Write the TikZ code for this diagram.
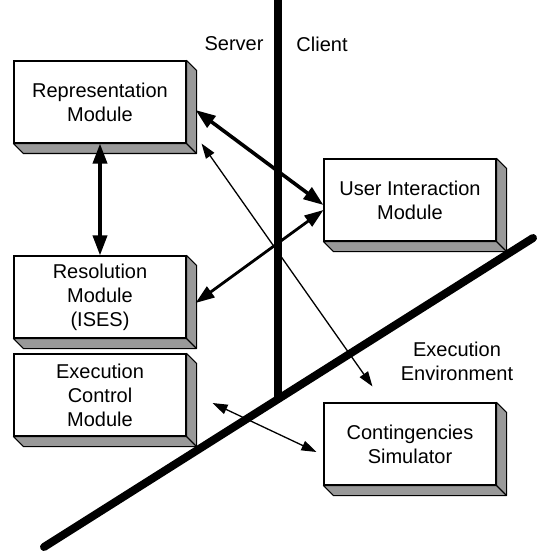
\documentclass[tikz,border=0pt]{standalone}
\usepackage{fontspec}
\setmainfont{Liberation Sans}
\usetikzlibrary{calc}
\usetikzlibrary{arrows.meta}

\begin{document}
\begin{tikzpicture}[x=1pt, y=-1pt, font=\fontsize{20}{24}\selectfont,
    module/.style={draw, fill=white, line width=1.1pt, minimum width=172pt, minimum height=82pt, inner sep=0pt, align=center},
    wall/.style={line width=8pt},
    bigarrow/.style={line width=3.6pt, {Triangle[length=20pt,width=14pt]}-{Triangle[length=20pt,width=14pt]}},
    midarrow/.style={line width=2.8pt, {Triangle[length=19pt,width=13pt]}-{Triangle[length=19pt,width=13pt]}},
    thinarrow/.style={line width=1.3pt, {Triangle[length=15pt,width=10pt]}-{Triangle[length=15pt,width=10pt]}}]
          \useasboundingbox (0,0) rectangle (536,553);
          % server/client and execution environment boundaries
          \draw[wall] (278, 0) -- (278, 400);
          \draw[wall, line cap=round] (44, 547) -- (533, 238);
          \node (server) at (234, 44) {Server};
          \node (client) at (322, 44) {Client};
          \node[align=center] (env) at (457, 361) {Execution \\ Environment};
          %
          \node[module] (rep) at (100, 102) {Representation \\ Module};
          \node[module] (res) at (100, 297) {Resolution \\ Module \\ (ISES)};
          \node[module] (exe) at (100, 395) {Execution \\ Control \\ Module};
          \node[module] (ui) at (410, 200) {User Interaction \\ Module};
          \node[module] (cs) at (410, 444) {Contingencies \\ Simulator};
          % shaded side and bottom faces
          \foreach \n in {rep, res, exe, ui, cs} {
            \filldraw[fill=black!40, line width=1.1pt, line join=round] (\n.north east) -- ($(\n.north east)+(10,10)$) -- ($(\n.south east)+(10,10)$) -- ($(\n.south west)+(10,10)$) -- (\n.south west) -- (\n.south east) -- cycle;
            \draw[line width=1.1pt] (\n.south east) -- ($(\n.south east)+(10,10)$);
          }
          %
          \coordinate (envtip) at ($(cs.north west)+(49,-16)$);
          \draw[bigarrow] (rep.south) -- (res.north);
          \draw[bigarrow] ($(rep.east)+(9,8)$) -- ($(ui.west)+(0,5)$);
          \draw[midarrow] ($(res.east)+(9,6)$) -- ($(ui.west)+(0,10)$);
          \draw[thinarrow] ($(rep.south east)+(15,0)$) -- (envtip);
          \draw[thinarrow] ($(exe.east)+(26,8)$) -- ($(cs.west)+(-7,8)$);
        \end{tikzpicture}
\end{document}
